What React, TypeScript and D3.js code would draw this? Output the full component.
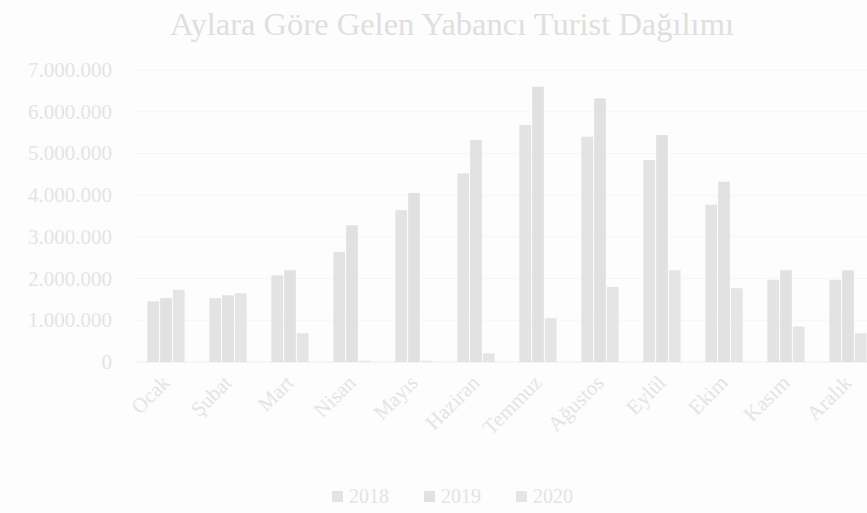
import React from "react";
import * as d3 from "d3";

const months = ["Ocak", "Şubat", "Mart", "Nisan", "Mayıs", "Haziran", "Temmuz", "Ağustos", "Eylül", "Ekim", "Kasım", "Aralık"];
const years = ["2018", "2019", "2020"];
const v2018 = [1450000, 1530000, 2080000, 2640000, 3640000, 4520000, 5680000, 5400000, 4840000, 3770000, 1970000, 1970000];
const v2019 = [1530000, 1600000, 2200000, 3280000, 4050000, 5320000, 6600000, 6320000, 5440000, 4320000, 2200000, 2200000];
const v2020 = [1730000, 1650000, 690000, 30000, 30000, 210000, 1050000, 1800000, 2200000, 1770000, 850000, 690000];
const yTicks = [0, 1000000, 2000000, 3000000, 4000000, 5000000, 6000000, 7000000];
const series = [v2018, v2019, v2020];
const colors = ["#e3e3e3", "#e1e1e1", "#e5e5e5"];

const W = 867, H = 513;
const left = 135, right = 879, top = 70, bottom = 362;

const fmt = (v: number) => (v === 0 ? "0" : d3.format(",")(v).replace(/,/g, "."));

export default function App() {
  const x = d3.scaleBand<string>().domain(months).range([left, right]).paddingInner(0.4).paddingOuter(0.2);
  const xi = d3.scaleBand<string>().domain(years).range([0, x.bandwidth()]).paddingInner(0.08);
  const y = d3.scaleLinear().domain([0, 7000000]).range([bottom, top]);
  const font = "'Liberation Serif', 'DejaVu Serif', serif";
  return (
    <svg width={W} height={H} style={{ position: "absolute", left: 0, top: 0, background: "#fdfdfd" }}>
      <rect x={0} y={0} width={W} height={H} fill="#fdfdfd" />
      <text x={452} y={35} textAnchor="middle" fontFamily={font} fontSize={32.5} fill="#dfdfdf">
        Aylara Göre Gelen Yabancı Turist Dağılımı
      </text>
      {yTicks.map((t) => (
        <g key={t}>
          <line x1={left} x2={W} y1={y(t)} y2={y(t)} stroke={t === 0 ? "#ececec" : "#f6f6f6"} strokeWidth={1} />
          <text x={112} y={y(t) + 7} textAnchor="end" fontFamily={font} fontSize={21} fill="#e4e4e4">
            {fmt(t)}
          </text>
        </g>
      ))}
      {months.map((m, i) => (
        <g key={m}>
          {series.map((s, k) => (
            <rect
              key={k}
              x={(x(m) as number) + (xi(years[k]) as number)}
              y={y(s[i])}
              width={xi.bandwidth()}
              height={bottom - y(s[i])}
              fill={colors[k]}
            />
          ))}
          <text
            transform={`translate(${(x(m) as number) + x.bandwidth() / 2 + 5},${bottom + 22}) rotate(-45)`}
            textAnchor="end"
            fontFamily={font}
            fontSize={21}
            fill="#e4e4e4"
          >
            {m}
          </text>
        </g>
      ))}
      {years.map((yr, k) => (
        <g key={yr} transform={`translate(${332 + k * 92},${490})`}>
          <rect x={0} y={1} width={11} height={11} fill={colors[k]} />
          <text x={17} y={13} fontFamily={font} fontSize={20} fill="#e4e4e4">
            {yr}
          </text>
        </g>
      ))}
    </svg>
  );
}
